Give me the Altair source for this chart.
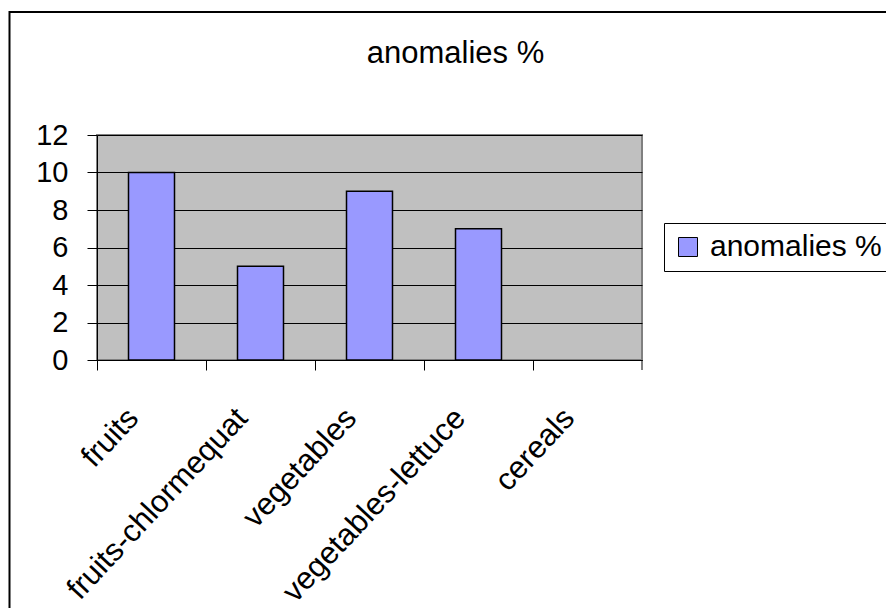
import altair as alt
import pandas as pd

categories = ["fruits", "fruits-chlormequat", "vegetables", "vegetables-lettuce", "cereals"]
values = [10, 5, 9, 7, None]
series = ["anomalies %"] * 5
y_ticks = [0, 2, 4, 6, 8, 10, 12]

df = pd.DataFrame({"category": categories, "value": values, "series": series})

FONT = "Liberation Sans"
W, H = 545, 225
PAD = {"left": 89, "top": 127, "right": 244, "bottom": 248}

bars = alt.Chart(df).mark_bar(stroke="black", strokeWidth=1.5,
                              width=alt.RelativeBandSize(0.422)).encode(
    x=alt.X("category:N", sort=categories,
            scale=alt.Scale(domain=categories, paddingInner=0, paddingOuter=0),
            axis=alt.Axis(title=None, labelAngle=-47, bandPosition=0, labelOffset=-18,
                          labelAlign="right", labelBaseline="middle",
                          tickSize=10, tickColor="black", domainColor="black",
                          labelFontSize=31, labelFont=FONT, labelColor="black",
                          labelPadding=43, grid=False, labelOverlap=False,
                          labelLimit=0)),
    y=alt.Y("value:Q", scale=alt.Scale(domain=[0, 12]),
            axis=alt.Axis(title=None, values=y_ticks, tickSize=10, tickColor="black",
                          domainColor="black", grid=True, gridColor="black",
                          gridWidth=1, labelFontSize=29, labelFont=FONT,
                          labelColor="black", labelPadding=19)),
    color=alt.Color("series:N", scale=alt.Scale(range=["#9999FF"]),
                    legend=alt.Legend(title=None, orient="none", legendX=567, legendY=88,
                                      padding=9, fillColor="white", strokeColor="black",
                                      symbolType="square", symbolSize=361,
                                      symbolStrokeColor="black", symbolStrokeWidth=1,
                                      symbolOpacity=1, labelLimit=0,
                                      labelFontSize=30, labelFont=FONT, labelColor="black",
                                      labelOffset=7)),
)

one = pd.DataFrame({"a": [0]})
last_tick = alt.Chart(one).mark_rule(color="black", strokeWidth=1).encode(
    x=alt.value(W), y=alt.value(H), y2=alt.value(H + 10)
)
frame = alt.Chart(one).mark_rect(fill=None, stroke="black", strokeWidth=2).encode(
    x=alt.value(-87.5), x2=alt.value(W + 400), y=alt.value(-123), y2=alt.value(H + 400)
)

chart = alt.layer(bars, last_tick, frame).properties(
    width=W, height=H,
    autosize=alt.AutoSizeParams(type="none"),
    padding=PAD,
    background="white",
    title=alt.TitleParams("anomalies %", font=FONT, fontSize=31, fontWeight="normal",
                          color="black", anchor="middle", dx=86, offset=-83,
                          baseline="alphabetic"),
).configure_view(
    fill="#C0C0C0", stroke="#808080", strokeWidth=2
)

chart.save("out.html", embed_options={"renderer": "svg", "actions": False})
